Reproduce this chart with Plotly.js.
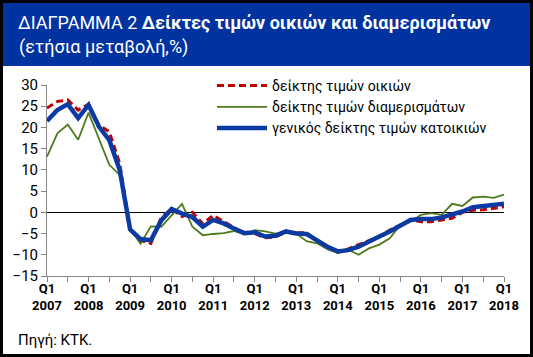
<!DOCTYPE html>
<html>
<head>
<meta charset="utf-8">
<script src="https://cdn.plot.ly/plotly-3.0.1.min.js"></script>
<style>html,body{margin:0;padding:0;background:#fff;}#chart{width:533px;height:357px;}</style>
</head>
<body>
<div id="chart"></div>
<script>
// Quarter tick labels (Q1 2007 ... Q1 2018), one entry every two quarters
const tickLabels = ['Q1<br>2007','', 'Q1<br>2008','', 'Q1<br>2009','', 'Q1<br>2010','', 'Q1<br>2011','', 'Q1<br>2012','',
  'Q1<br>2013','', 'Q1<br>2014','', 'Q1<br>2015','', 'Q1<br>2016','', 'Q1<br>2017','', 'Q1<br>2018'];
const seriesNames = ['δείκτης τιμών οικιών', 'δείκτης τιμών διαμερισμάτων', 'γενικός δείκτης τιμών κατοικιών'];

// annual change, %, quarterly Q1 2007 .. Q1 2018
const houses = [24.6, 26.1, 26.5, 24.1, 25.5, 20.6, 19.0, 11.5, -4.0, -6.6, -7.3, -1.2, 0.8, -1.0, 0.0, -2.7,
  -0.7, -2.2, -3.7, -5.0, -5.0, -6.0, -5.8, -4.6, -4.8, -4.8, -6.7, -8.0, -9.4, -8.6, -7.6, -6.6,
  -5.7, -4.2, -3.0, -1.8, -2.2, -2.2, -1.8, -1.4, 0.0, 0.5, 0.6, 0.9, 1.3];
const apartments = [13.1, 18.6, 20.7, 17.1, 23.5, 17.4, 11.2, 8.8, -3.8, -7.4, -3.3, -3.4, -0.8, 2.0, -3.4, -5.4,
  -5.1, -4.9, -4.4, -5.2, -4.2, -4.5, -5.0, -4.8, -5.0, -6.8, -7.3, -8.7, -9.6, -8.8, -10.0, -8.5,
  -7.6, -6.1, -3.0, -2.2, -0.6, -0.2, -0.6, 2.0, 1.5, 3.5, 3.7, 3.4, 4.2];
const general = [21.5, 24.1, 25.5, 22.2, 25.3, 20.2, 17.0, 10.0, -4.0, -6.3, -6.6, -1.9, 0.8, -0.3, -1.1, -3.4,
  -1.8, -2.6, -3.8, -4.9, -4.7, -5.7, -5.5, -4.5, -5.0, -5.1, -6.6, -8.1, -9.2, -8.9, -8.1, -7.0,
  -5.7, -4.5, -3.2, -1.8, -1.6, -1.6, -1.2, -0.6, 0.2, 1.2, 1.5, 1.6, 2.0];

const xIdx = houses.map((_, i) => i);
const tickVals = tickLabels.map((_, i) => i * 2);

const W = 533, H = 357, M = {l: 47, r: 29, t: 85, b: 81};
const pw = W - M.l - M.r, ph = H - M.t - M.b;
const fx = px => (px - M.l) / pw;
const fy = py => (H - M.b - py) / ph;
const FONT = 'Roboto, "Noto Sans", sans-serif';

const traces = [
  {x: xIdx, y: houses, name: seriesNames[0], type: 'scatter', mode: 'lines',
   line: {color: '#c00000', width: 3, dash: '7px,4px'}},
  {x: xIdx, y: apartments, name: seriesNames[1], type: 'scatter', mode: 'lines',
   line: {color: '#4f7a1e', width: 1.8}},
  {x: xIdx, y: general, name: seriesNames[2], type: 'scatter', mode: 'lines',
   line: {color: '#0b3aa2', width: 4.5}}
];

const layout = {
  width: W, height: H,
  margin: M,
  paper_bgcolor: '#ffffff', plot_bgcolor: 'rgba(0,0,0,0)',
  font: {family: FONT, color: '#000', size: 14},
  title: {
    text: 'ΔΙΑΓΡΑΜΜΑ 2 <b>Δείκτες τιμών οικιών και διαμερισμάτων</b>',
    xref: 'container', yref: 'container', x: 18 / W, xanchor: 'left', y: 1 - 23 / H, yanchor: 'middle',
    pad: {t: 0, b: 0, l: 0, r: 0},
    font: {family: FONT, size: 18, color: '#ffffff'}
  },
  showlegend: true,
  legend: {
    x: fx(212), y: fy(70), xanchor: 'left', yanchor: 'top',
    bgcolor: 'rgba(0,0,0,0)', font: {family: FONT, size: 14, color: '#000'},
    itemwidth: 50, tracegroupgap: 0
  },
  xaxis: {
    range: [0, 44], tickmode: 'array', tickvals: tickVals, ticktext: tickLabels.map(t => t ? '<b>' + t + '</b>' : ''),
    ticks: 'outside', ticklen: 5, tickcolor: '#868686', showline: true, linecolor: '#868686', linewidth: 1,
    showgrid: false, zeroline: false, tickangle: 0, ticklabelstandoff: -5,
    tickfont: {family: FONT, size: 13, color: '#000'}
  },
  yaxis: {
    range: [-15, 30], dtick: 5, tick0: 0,
    ticks: 'outside', ticklen: 5, tickcolor: '#868686', showline: true, linecolor: '#868686', linewidth: 1,
    showgrid: false, zeroline: true, zerolinecolor: '#000', zerolinewidth: 1,
    tickfont: {family: FONT, size: 15, color: '#000'}
  },
  shapes: [
    {type: 'rect', xref: 'paper', yref: 'paper', x0: fx(0), x1: fx(W), y0: fy(66), y1: fy(0),
     fillcolor: '#0033a0', line: {width: 0}, layer: 'below'},
    {type: 'rect', xref: 'paper', yref: 'paper', x0: fx(1.5), x1: fx(W - 1.5), y0: fy(H - 1.5), y1: fy(1.5),
     fillcolor: 'rgba(0,0,0,0)', line: {color: '#000', width: 3}, layer: 'above'}
  ],
  annotations: [
    {text: '(ετήσια μεταβολή,%)', xref: 'paper', yref: 'paper', x: fx(17), y: fy(47), xanchor: 'left', yanchor: 'middle',
     showarrow: false, font: {family: FONT, size: 18, color: '#ffffff'}},
    {text: 'Πηγή: ΚΤΚ.', xref: 'paper', yref: 'paper', x: fx(16), y: fy(340), xanchor: 'left', yanchor: 'middle',
     showarrow: false, font: {family: FONT, size: 15, color: '#000'}}
  ]
};

Plotly.newPlot('chart', traces, layout, {displayModeBar: false, staticPlot: true});
</script>
</body>
</html>
